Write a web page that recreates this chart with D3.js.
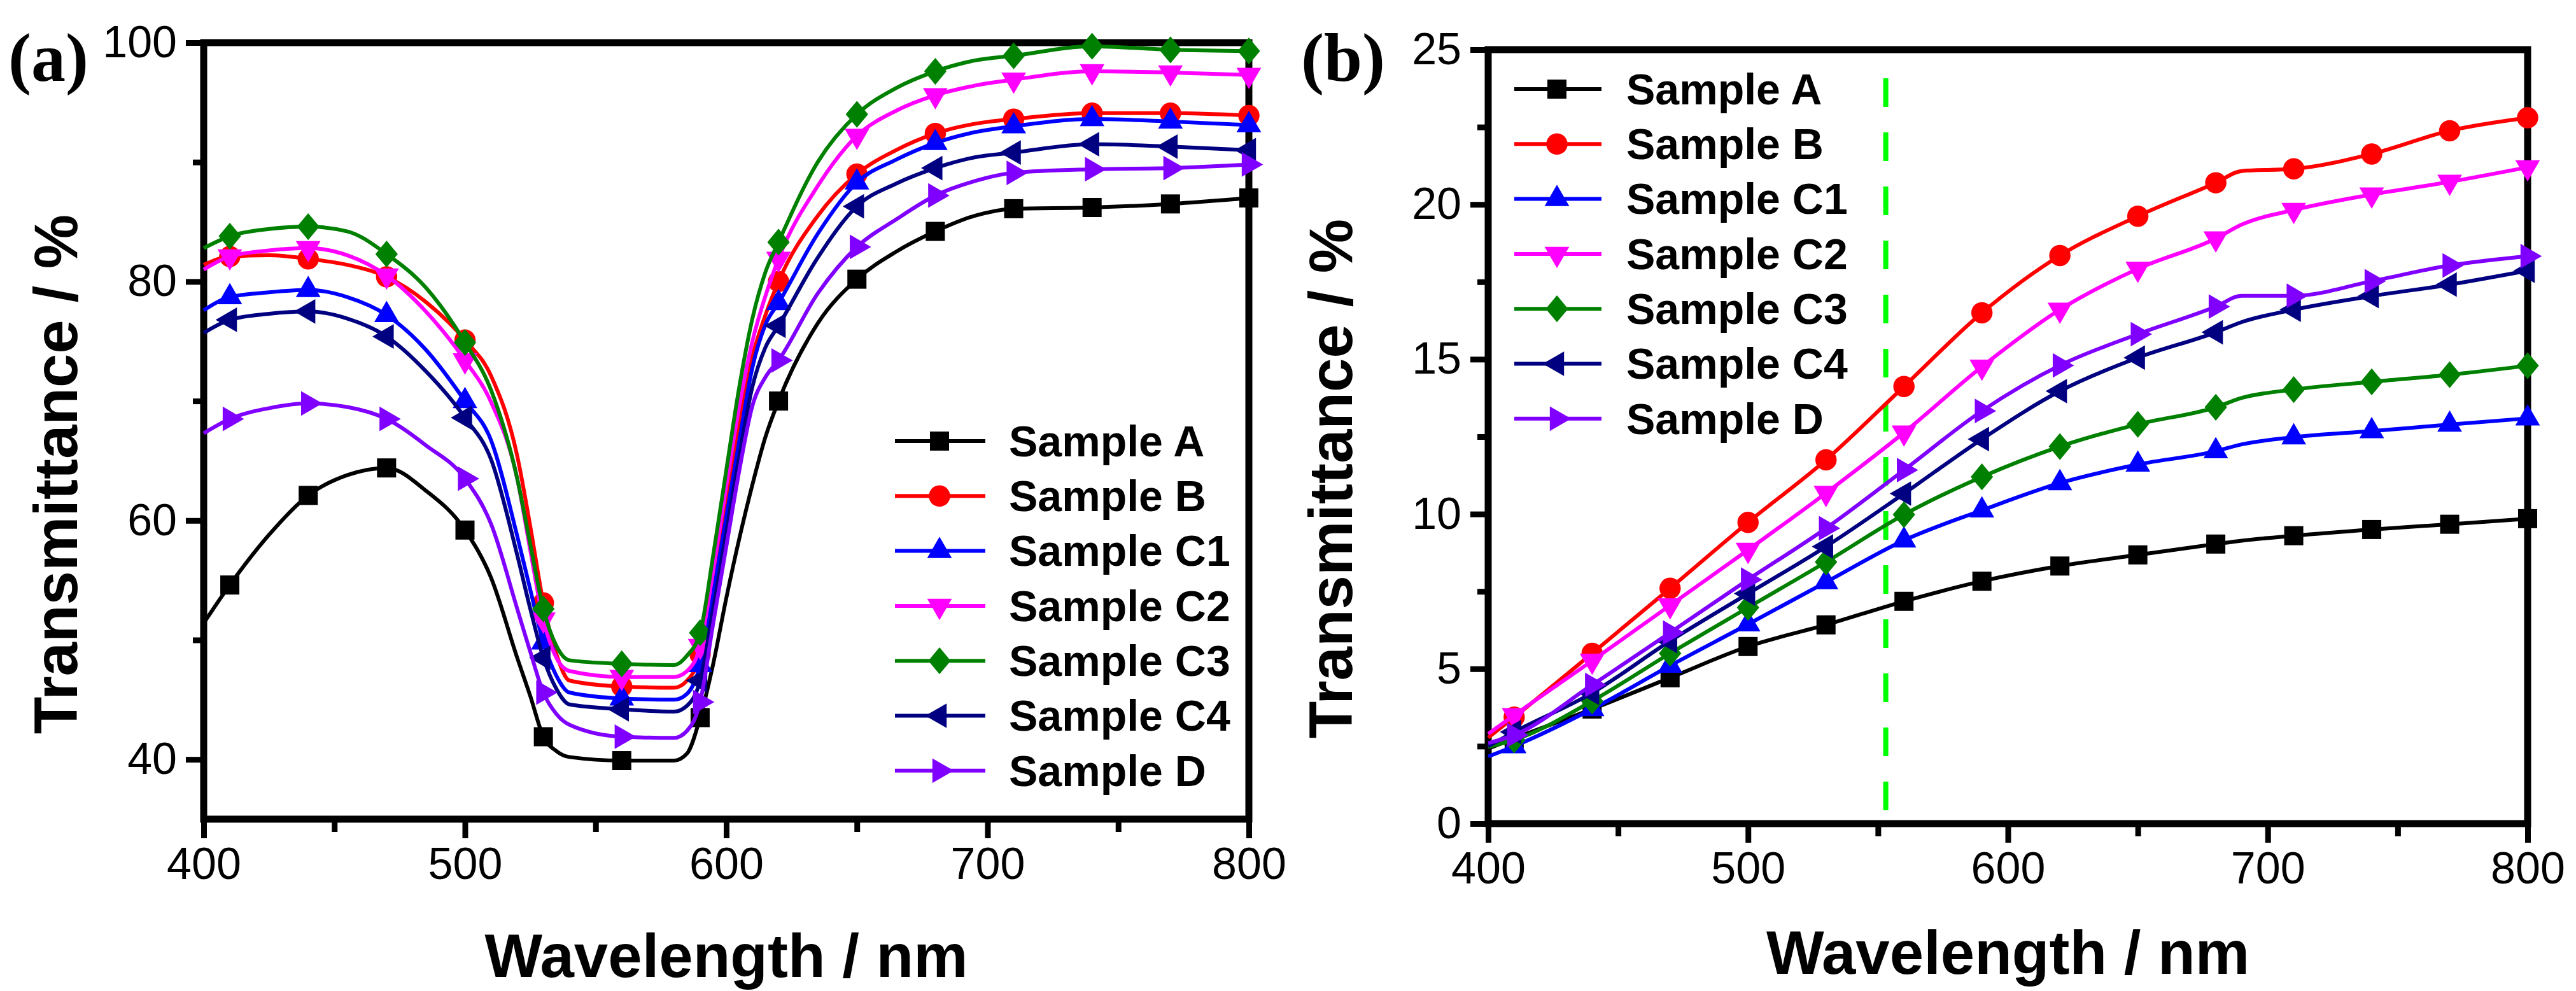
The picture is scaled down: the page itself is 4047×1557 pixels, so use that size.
<!DOCTYPE html>
<html>
<head>
<meta charset="utf-8">
<title>Transmittance spectra</title>
<script src="https://cdn.jsdelivr.net/npm/d3@7"></script>
<style>
  body { margin: 0; background: #fff; }
  text { font-family: "Liberation Sans", Arial, sans-serif; fill: #000; }
</style>
</head>
<body>
<script>
var width = 4047,
    height = 1557;

var sampleNames = ["Sample A", "Sample B", "Sample C1", "Sample C2", "Sample C3", "Sample C4", "Sample D"];
var sampleColors = ["#000000", "#ff0000", "#0000ff", "#ff00ff", "#008000", "#000080", "#8000ff"];
var sampleSymbols = ["square", "circle", "up", "down", "diamond", "left", "right"];

// panel (a): wavelength (nm) and transmittance (%)
var wlA = [400, 410, 425, 440, 455, 470, 485, 500, 510, 520, 525, 530, 535, 540, 560, 580, 585,
           590, 595, 600, 605, 610, 615, 620, 635, 650, 665, 680, 695, 710, 740, 770, 800];
var aSampleA  = [51.4, 54.6, 58.8, 62.1, 63.8, 64.4, 62.5, 59.2, 55.2, 48.5, 45.3, 41.9, 40.7, 40.2, 39.9, 39.9, 40.5,
                 43.5, 48.0, 53.5, 58.5, 63.0, 67.0, 70.0, 76.5, 80.2, 82.5, 84.2, 85.5, 86.1, 86.2, 86.5, 87.0];
var aSampleB  = [81.4, 82.1, 82.2, 81.9, 81.4, 80.4, 78.3, 75.1, 72.1, 65.4, 59.5, 53.1, 48.8, 46.6, 46.1, 46.0, 46.6,
                 48.8, 55.2, 61.9, 68.3, 73.7, 77.2, 80.0, 85.5, 89.0, 91.0, 92.4, 93.2, 93.6, 94.1, 94.1, 93.9];
var aSampleC1 = [77.6, 78.7, 79.1, 79.3, 78.7, 77.2, 74.3, 70.0, 66.7, 58.7, 54.2, 49.8, 47.0, 45.6, 45.1, 45.0, 45.5,
                 47.9, 53.9, 60.3, 66.7, 72.8, 76.4, 78.2, 84.0, 88.3, 90.2, 91.6, 92.5, 93.0, 93.6, 93.4, 93.1];
var aSampleC2 = [81.0, 82.1, 82.6, 82.8, 82.2, 80.5, 77.5, 73.4, 69.9, 63.5, 57.5, 51.7, 48.5, 47.4, 46.9, 46.9, 47.4,
                 49.5, 55.8, 62.9, 69.6, 75.0, 78.8, 81.9, 88.0, 92.2, 94.3, 95.6, 96.4, 96.9, 97.6, 97.5, 97.3];
var aSampleC3 = [82.8, 83.8, 84.4, 84.6, 84.2, 82.3, 79.5, 74.9, 70.9, 63.5, 58.0, 52.6, 49.5, 48.3, 48.0, 47.9, 48.7,
                 50.6, 57.1, 64.2, 71.2, 76.9, 80.8, 83.3, 90.0, 94.0, 96.2, 97.6, 98.5, 98.9, 99.7, 99.4, 99.3];
var aSampleC4 = [75.7, 76.8, 77.3, 77.5, 76.9, 75.4, 72.5, 68.6, 65.1, 57.1, 52.6, 48.5, 45.9, 44.6, 44.2, 44.0, 44.5,
                 46.6, 52.6, 59.0, 65.4, 71.2, 74.5, 76.3, 82.0, 86.3, 88.2, 89.5, 90.4, 90.8, 91.5, 91.3, 91.0];
var aSampleD  = [67.3, 68.5, 69.4, 69.8, 69.5, 68.5, 66.3, 63.5, 59.7, 52.6, 49.0, 45.6, 43.8, 42.9, 41.9, 41.8, 42.4,
                 44.8, 51.4, 57.8, 64.2, 69.6, 72.0, 73.4, 79.0, 82.9, 85.2, 87.2, 88.4, 89.1, 89.4, 89.5, 89.8];

// panel (b)
var wlB = [400, 410, 440, 470, 500, 530, 560, 590, 620, 650, 680, 690, 710, 740, 770, 800];
var bSampleA  = [2.42, 2.75, 3.70, 4.71, 5.72, 6.42, 7.18, 7.83, 8.32, 8.68, 9.03, 9.14, 9.30, 9.50, 9.67, 9.85];
var bSampleB  = [2.78, 3.44, 5.50, 7.60, 9.73, 11.75, 14.12, 16.50, 18.35, 19.62, 20.70, 21.08, 21.15, 21.63, 22.38, 22.80];
var bSampleC1 = [2.17, 2.50, 3.70, 5.10, 6.44, 7.80, 9.15, 10.12, 11.00, 11.60, 12.03, 12.25, 12.48, 12.68, 12.89, 13.09];
var bSampleC2 = [2.90, 3.50, 5.26, 7.05, 8.84, 10.68, 12.63, 14.76, 16.60, 17.92, 18.90, 19.35, 19.82, 20.32, 20.73, 21.20];
var bSampleC3 = [2.48, 2.70, 3.96, 5.50, 6.98, 8.45, 9.98, 11.20, 12.18, 12.90, 13.45, 13.75, 14.02, 14.27, 14.50, 14.79];
var bSampleC4 = [2.50, 2.96, 4.22, 5.90, 7.43, 8.95, 10.66, 12.42, 13.97, 15.05, 15.87, 16.20, 16.60, 17.04, 17.41, 17.86];
var bSampleD  = [2.60, 2.86, 4.48, 6.17, 7.88, 9.54, 11.42, 13.33, 14.80, 15.81, 16.70, 17.05, 17.05, 17.52, 18.03, 18.33];

// wavelengths that carry a symbol
var markWl = [410, 440, 470, 500, 530, 560, 590, 620, 650, 680, 710, 740, 770, 800];

var xTicks = [400, 500, 600, 700, 800],
    xMinor = [450, 550, 650, 750];
var yTicksA = [40, 60, 80, 100],
    yMinorA = [50, 70, 90];
var yTicksB = [0, 5, 10, 15, 20, 25],
    yMinorB = [2.5, 7.5, 12.5, 17.5, 22.5];

// green dashed marker line in (b)
var dashWl = 553,
    dashRange = [0.43, 24.2];

var svg = d3.select("body").append("svg")
    .attr("width", width)
    .attr("height", height);

function symbolPath(kind) {
  if (kind == "square") return d3.symbol(d3.symbolSquare, 900)();
  if (kind == "circle") return d3.symbol(d3.symbolCircle, 880)();
  if (kind == "diamond") return d3.symbol(d3.symbolSquare, 620)();
  return d3.symbol(d3.symbolTriangle, 650)();
}

function symbolTransform(kind, px, py) {
  var t = "translate(" + px + "," + py + ")";
  if (kind == "down") t += " rotate(180)";
  if (kind == "left") t += " rotate(-90)";
  if (kind == "right") t += " rotate(90)";
  if (kind == "diamond") t += " scale(1,1.2) rotate(45)";
  return t;
}

function drawPanel(p) {
  var x = d3.scaleLinear().domain([400, 800]).range([p.left, p.right]),
      y = d3.scaleLinear().domain(p.yDomain).range([p.bottom, p.top]);

  var g = svg.append("g");

  // axes: major and minor ticks, bottom and left only
  var ax = g.append("g").attr("transform", "translate(0," + p.bottom + ")")
      .call(d3.axisBottom(x).tickValues(xTicks).tickSize(30).tickSizeOuter(0).tickPadding(14));
  var axm = g.append("g").attr("transform", "translate(0," + p.bottom + ")")
      .call(d3.axisBottom(x).tickValues(xMinor).tickSize(20).tickSizeOuter(0).tickFormat(""));
  var ay = g.append("g").attr("transform", "translate(" + p.left + ",0)")
      .call(d3.axisLeft(y).tickValues(p.yTicks).tickSize(28).tickSizeOuter(0).tickPadding(14));
  var aym = g.append("g").attr("transform", "translate(" + p.left + ",0)")
      .call(d3.axisLeft(y).tickValues(p.yMinor).tickSize(17).tickSizeOuter(0).tickFormat(""));

  [ax, axm, ay, aym].forEach(function (a) {
    a.select(".domain").remove();
    a.selectAll(".tick line").attr("stroke", "#000").attr("stroke-width", 9);
    a.selectAll(".tick text")
        .style("font-family", "'Liberation Sans', Arial, sans-serif")
        .style("font-size", "70px")
        .attr("fill", "#000");
  });

  // frame
  g.append("rect")
      .attr("x", p.left)
      .attr("y", p.top)
      .attr("width", p.right - p.left)
      .attr("height", p.bottom - p.top)
      .attr("fill", "none")
      .attr("stroke", "#000")
      .attr("stroke-width", 11);

  if (p.dash) {
    g.append("line")
        .attr("x1", x(p.dash.wl)).attr("x2", x(p.dash.wl))
        .attr("y1", y(p.dash.range[0])).attr("y2", y(p.dash.range[1]))
        .attr("stroke", "#00ff00")
        .attr("stroke-width", 8)
        .attr("stroke-dasharray", "45,40");
  }

  var line = d3.line()
      .x(function (d) { return x(d[0]); })
      .y(function (d) { return y(d[1]); })
      .curve(d3.curveMonotoneX);

  p.series.forEach(function (vals, i) {
    var pts = p.wl.map(function (w, k) { return [w, vals[k]]; });
    g.append("path")
        .attr("d", line(pts))
        .attr("fill", "none")
        .attr("stroke", sampleColors[i])
        .attr("stroke-width", 6)
        .attr("stroke-linejoin", "round");

    g.selectAll(null)
        .data(pts.filter(function (d) { return markWl.indexOf(d[0]) >= 0; }))
      .enter().append("path")
        .attr("d", symbolPath(sampleSymbols[i]))
        .attr("transform", function (d) { return symbolTransform(sampleSymbols[i], x(d[0]), y(d[1])); })
        .attr("fill", sampleColors[i]);
  });

  // legend
  sampleNames.forEach(function (name, i) {
    var ry = p.legend.y0 + i * p.legend.step;
    g.append("line")
        .attr("x1", p.legend.x0).attr("x2", p.legend.x1)
        .attr("y1", ry).attr("y2", ry)
        .attr("stroke", sampleColors[i])
        .attr("stroke-width", 6);
    g.append("path")
        .attr("d", symbolPath(sampleSymbols[i]))
        .attr("transform", symbolTransform(sampleSymbols[i], p.legend.xm, ry))
        .attr("fill", sampleColors[i]);
    g.append("text")
        .attr("x", p.legend.xt)
        .attr("y", ry)
        .attr("dy", "0.35em")
        .style("font-size", "68px")
        .style("font-weight", "bold")
        .text(name);
  });

  // axis titles
  g.append("text")
      .attr("x", (p.left + p.right) / 2)
      .attr("y", p.xTitleY)
      .attr("text-anchor", "middle")
      .style("font-size", "96px")
      .style("font-weight", "bold")
      .text("Wavelength / nm");

  g.append("text")
      .attr("transform", "translate(" + p.yTitle[0] + "," + p.yTitle[1] + ") rotate(-90)")
      .attr("text-anchor", "middle")
      .style("font-size", "96px")
      .style("font-weight", "bold")
      .text("Transmittance / %");

  g.append("text")
      .attr("x", p.label[0])
      .attr("y", p.label[1])
      .style("font-family", "'Liberation Serif', 'Times New Roman', serif")
      .style("font-size", "108px")
      .style("font-weight", "bold")
      .text(p.name);
}

drawPanel({
  name: "(a)", label: [13, 127],
  left: 320, right: 1962, top: 67, bottom: 1287,
  yDomain: [35, 100], yTicks: yTicksA, yMinor: yMinorA,
  wl: wlA,
  series: [aSampleA, aSampleB, aSampleC1, aSampleC2, aSampleC3, aSampleC4, aSampleD],
  legend: {x0: 1406, x1: 1548, xm: 1476, xt: 1585, y0: 693, step: 86.3},
  xTitleY: 1535, yTitle: [121, 745]
});

drawPanel({
  name: "(b)", label: [2044, 127],
  left: 2338, right: 3971, top: 78, bottom: 1294,
  yDomain: [0, 25], yTicks: yTicksB, yMinor: yMinorB,
  wl: wlB,
  series: [bSampleA, bSampleB, bSampleC1, bSampleC2, bSampleC3, bSampleC4, bSampleD],
  legend: {x0: 2379, x1: 2516, xm: 2446, xt: 2555, y0: 140, step: 86.3},
  dash: {wl: dashWl, range: dashRange},
  xTitleY: 1530, yTitle: [2124, 752]
});
</script>
</body>
</html>
